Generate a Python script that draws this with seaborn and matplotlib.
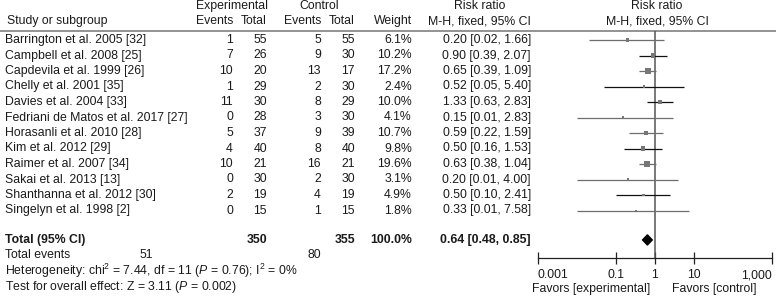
import matplotlib
matplotlib.use("Agg")
import matplotlib.pyplot as plt
import seaborn as sns
import numpy as np
import pandas as pd

# ---------------- data ----------------
studies = ["Barrington et al. 2005 [32]", "Campbell et al. 2008 [25]", "Capdevila et al. 1999 [26]",
           "Chelly et al. 2001 [35]", "Davies et al. 2004 [33]", "Fedriani de Matos et al. 2017 [27]",
           "Horasanli et al. 2010 [28]", "Kim et al. 2012 [29]", "Raimer et al. 2007 [34]",
           "Sakai et al. 2013 [13]", "Shanthanna et al. 2012 [30]", "Singelyn et al. 1998 [2]"]
exp_events = [1, 7, 10, 1, 11, 0, 5, 4, 10, 0, 2, 0]
exp_total = [55, 26, 20, 29, 30, 28, 37, 40, 21, 30, 19, 15]
ctrl_events = [5, 9, 13, 2, 8, 3, 9, 8, 16, 2, 4, 1]
ctrl_total = [55, 30, 17, 30, 29, 30, 39, 40, 21, 30, 19, 15]
weights = [6.1, 10.2, 17.2, 2.4, 10.0, 4.1, 10.7, 9.8, 19.6, 3.1, 4.9, 1.8]
rr = [0.20, 0.90, 0.65, 0.52, 1.33, 0.15, 0.59, 0.50, 0.63, 0.20, 0.50, 0.33]
ci_low = [0.02, 0.39, 0.39, 0.05, 0.63, 0.01, 0.22, 0.16, 0.38, 0.01, 0.10, 0.01]
ci_high = [1.66, 2.07, 1.09, 5.40, 2.83, 2.83, 1.59, 1.53, 1.04, 4.00, 2.41, 7.58]

total_exp_n = 350
total_ctrl_n = 355
total_weight = 100.0
total_exp_events = 51
total_ctrl_events = 80
pooled_rr = 0.64
pooled_low = 0.48
pooled_high = 0.85
tick_values = [0.001, 0.1, 1, 10, 1000]
tick_labels = ["0.001", "0.1", "1", "10", "1,000"]

# line shade per row (style only)
line_colors = ["#6e6e6e", "#111111", "#6e6e6e", "#111111", "#111111", "#6e6e6e",
               "#6e6e6e", "#111111", "#6e6e6e", "#6e6e6e", "#111111", "#6e6e6e"]

# ---------------- style ----------------
sns.set_theme(style="white")
plt.rcParams["font.family"] = ["Liberation Sans", "DejaVu Sans"]
plt.rcParams["mathtext.fontset"] = "custom"
plt.rcParams["mathtext.rm"] = "Liberation Sans"
plt.rcParams["mathtext.it"] = "Liberation Sans:italic"
plt.rcParams["mathtext.bf"] = "Liberation Sans:bold"

W, H = 776, 298
fig = plt.figure(figsize=(W / 100, H / 100), dpi=100)
fig.patch.set_facecolor("white")

canvas = fig.add_axes([0, 0, 1, 1])
canvas.set_xlim(0, W)
canvas.set_ylim(H, 0)
canvas.axis("off")

FS = 8.8
TXT = "#1a1a1a"
row0, rstep = 40.0, 15.5


def rowy(i):
    return row0 + rstep * i


def t(x, y, s, ha="left", bold=False, **kw):
    canvas.text(x, y, s, ha=ha, va="center", fontsize=FS, color=TXT,
                fontweight="bold" if bold else "normal", **kw)


# header
t(232, 6, "Experimental", ha="center")
t(319, 6, "Control", ha="center")
t(480, 6, "Risk ratio", ha="center")
t(657, 6, "Risk ratio", ha="center")
t(7, 21, "Study or subgroup")
t(233, 21, "Events", ha="right")
t(267, 21, "Total", ha="right")
t(321, 21, "Events", ha="right")
t(355, 21, "Total", ha="right")
t(412, 21, "Weight", ha="right")
t(531, 21, "M-H, fixed, 95% CI", ha="right")
t(657, 21, "M-H, fixed, 95% CI", ha="center")
canvas.plot([0, W], [31, 31], color="#8a8a8a", lw=1.3, solid_capstyle="butt")

for i, name in enumerate(studies):
    y = rowy(i)
    t(5, y, name)
    t(233, y, str(exp_events[i]), ha="right")
    t(267, y, str(exp_total[i]), ha="right")
    t(321, y, str(ctrl_events[i]), ha="right")
    t(355, y, str(ctrl_total[i]), ha="right")
    t(412, y, f"{weights[i]:.1f}%", ha="right")
    t(531, y, f"{rr[i]:.2f} [{ci_low[i]:.2f}, {ci_high[i]:.2f}]", ha="right")

ytot = rowy(12.9)
t(5, ytot, "Total (95% CI)", bold=True)
t(267, ytot, str(total_exp_n), ha="right", bold=True)
t(355, ytot, str(total_ctrl_n), ha="right", bold=True)
t(412, ytot, f"{total_weight:.1f}%", ha="right", bold=True)
t(531, ytot, f"{pooled_rr:.2f} [{pooled_low:.2f}, {pooled_high:.2f}]", ha="right", bold=True)
t(5, 255, "Total events")
t(153, 255, str(total_exp_events), ha="right")
t(321, 255, str(total_ctrl_events), ha="right")
t(5, 271, r"Heterogeneity: chi$^2$ = 7.44, df = 11 ($\mathit{P}$ = 0.76); I$^2$ = 0%")
t(5, 287, r"Test for overall effect: Z = 3.11 ($\mathit{P}$ = 0.002)")

# ---------------- forest axes ----------------
x0, x1 = 538, 772
ytop, ybot = 31, 258
ax = fig.add_axes([x0 / W, (H - ybot) / H, (x1 - x0) / W, (ybot - ytop) / H])
ax.set_facecolor("none")
ax.set_xscale("log")
ax.set_xlim(0.001, 1000)
ax.set_ylim((ybot - row0) / rstep, (ytop - row0) / rstep)

df = pd.DataFrame({"study": studies, "rr": rr, "lo": ci_low, "hi": ci_high,
                   "w": weights, "row": np.arange(len(studies))})

for i, r in df.iterrows():
    ax.plot([r.lo, r.hi], [r.row, r.row], color=line_colors[i], lw=0.9,
            solid_capstyle="butt", clip_on=False, zorder=2)

sizes = (np.sqrt(df["w"]) * 1.35 * 0.72) ** 2
sns.scatterplot(data=df, x="rr", y="row", marker="s", s=sizes.values, color="#777777",
                edgecolor="none", linewidth=0, ax=ax, legend=False, zorder=3, clip_on=False)

# vertical line of no effect
ax.axvline(1, color="#555555", lw=1.1, zorder=1)

# pooled diamond
yd = 12.9
ax.fill([pooled_low, pooled_rr, pooled_high, pooled_rr],
        [yd, yd - 0.33, yd, yd + 0.33], color="black", zorder=4, clip_on=False)

for s in ["top", "left", "right"]:
    ax.spines[s].set_visible(False)
ax.spines["bottom"].set_color("#222222")
ax.spines["bottom"].set_linewidth(0.9)
ax.set_yticks([])
ax.set_xticks(tick_values)
ax.set_xticklabels(tick_labels)
ax.minorticks_off()
ax.tick_params(axis="x", which="major", direction="inout", length=8, width=0.9,
               color="#222222", labelsize=FS, labelcolor=TXT, pad=4, bottom=True)
labs = ax.get_xticklabels()
labs[0].set_ha("left")
labs[-1].set_ha("right")
ax.set_xlabel("")
ax.set_ylabel("")

t(650, 289, "Favors [experimental]", ha="right")
t(672, 289, "Favors [control]")

fig.savefig("out.png", dpi=100, facecolor="white")
